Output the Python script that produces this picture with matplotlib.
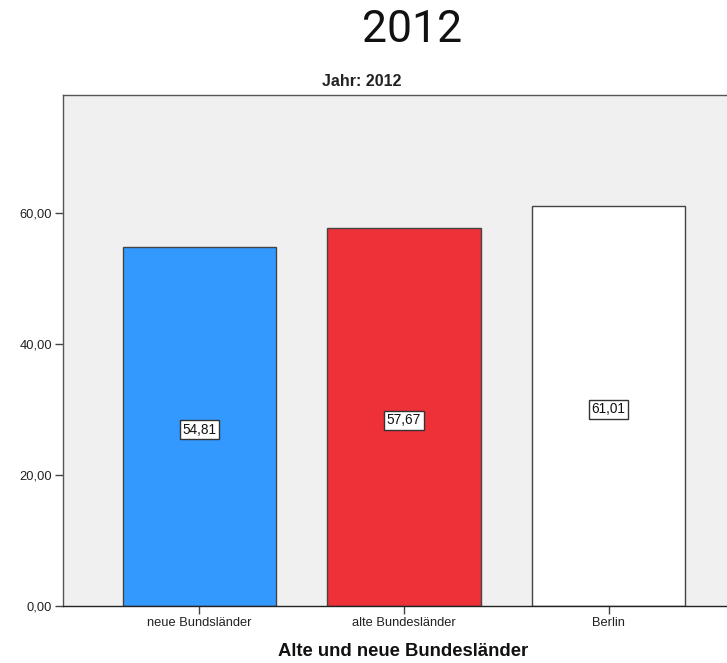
import matplotlib
matplotlib.use("Agg")
import matplotlib.pyplot as plt
import numpy as np

categories = ["neue Bundsländer", "alte Bundesländer", "Berlin"]
values = [54.81, 57.67, 61.01]
value_labels = ["54,81", "57,67", "61,01"]
colors = ["#3399FF", "#EE3039", "#FFFFFF"]
yticks = [0, 20, 40, 60]
ytick_labels = ["0,00", "20,00", "40,00", "60,00"]

W, H = 727, 663
fig = plt.figure(figsize=(W / 100, H / 100), dpi=100)
fig.patch.set_facecolor("white")

def fx(px):
    return px / W

def fy(py):
    return 1 - py / H

ax = fig.add_axes([fx(63), fy(606), fx(745) - fx(63), fy(95) - fy(606)])
ax.set_facecolor("#F0F0F0")

x = np.arange(len(categories))
ax.bar(x, values, width=0.75, color=colors, edgecolor="#444444", linewidth=1.0, zorder=2)
ax.set_xlim(-0.667, 2.667)
ax.set_ylim(0, 78)

for xi, v, lab in zip(x, values, value_labels):
    ax.text(xi, v / 2 - 0.5, lab, ha="center", va="center", fontsize=9.8,
            family="Liberation Sans", color="#111111", zorder=3,
            bbox=dict(boxstyle="square,pad=0.18", facecolor="white",
                      edgecolor="#333333", linewidth=1.0))

ax.set_yticks(yticks)
ax.set_yticklabels(ytick_labels, family="Liberation Sans", fontsize=9.3, color="#222222")
ax.set_xticks(x)
ax.set_xticklabels(categories, family="Liberation Sans", fontsize=9.3, color="#222222")
ax.tick_params(axis="both", direction="out", length=6, width=1, color="#444444", pad=2)

for side in ["left", "bottom", "top", "right"]:
    ax.spines[side].set_color("#555555")
    ax.spines[side].set_linewidth(1.0)
ax.spines["bottom"].set_color("#222222")

fig.text(fx(403), fy(651), "Alte und neue Bundesländer", ha="center", va="center",
         family="Liberation Sans", fontweight="bold", fontsize=13.3, color="#111111")
fig.text(fx(362), fy(81), "Jahr: 2012", ha="center", va="center",
         family="Liberation Sans", fontweight="bold", fontsize=11.5, color="#222222")
fig.text(fx(412), fy(30), "2012", ha="center", va="center",
         family="Roboto", fontweight="normal", fontsize=32, color="#111111")

fig.savefig("out.png", dpi=100)
